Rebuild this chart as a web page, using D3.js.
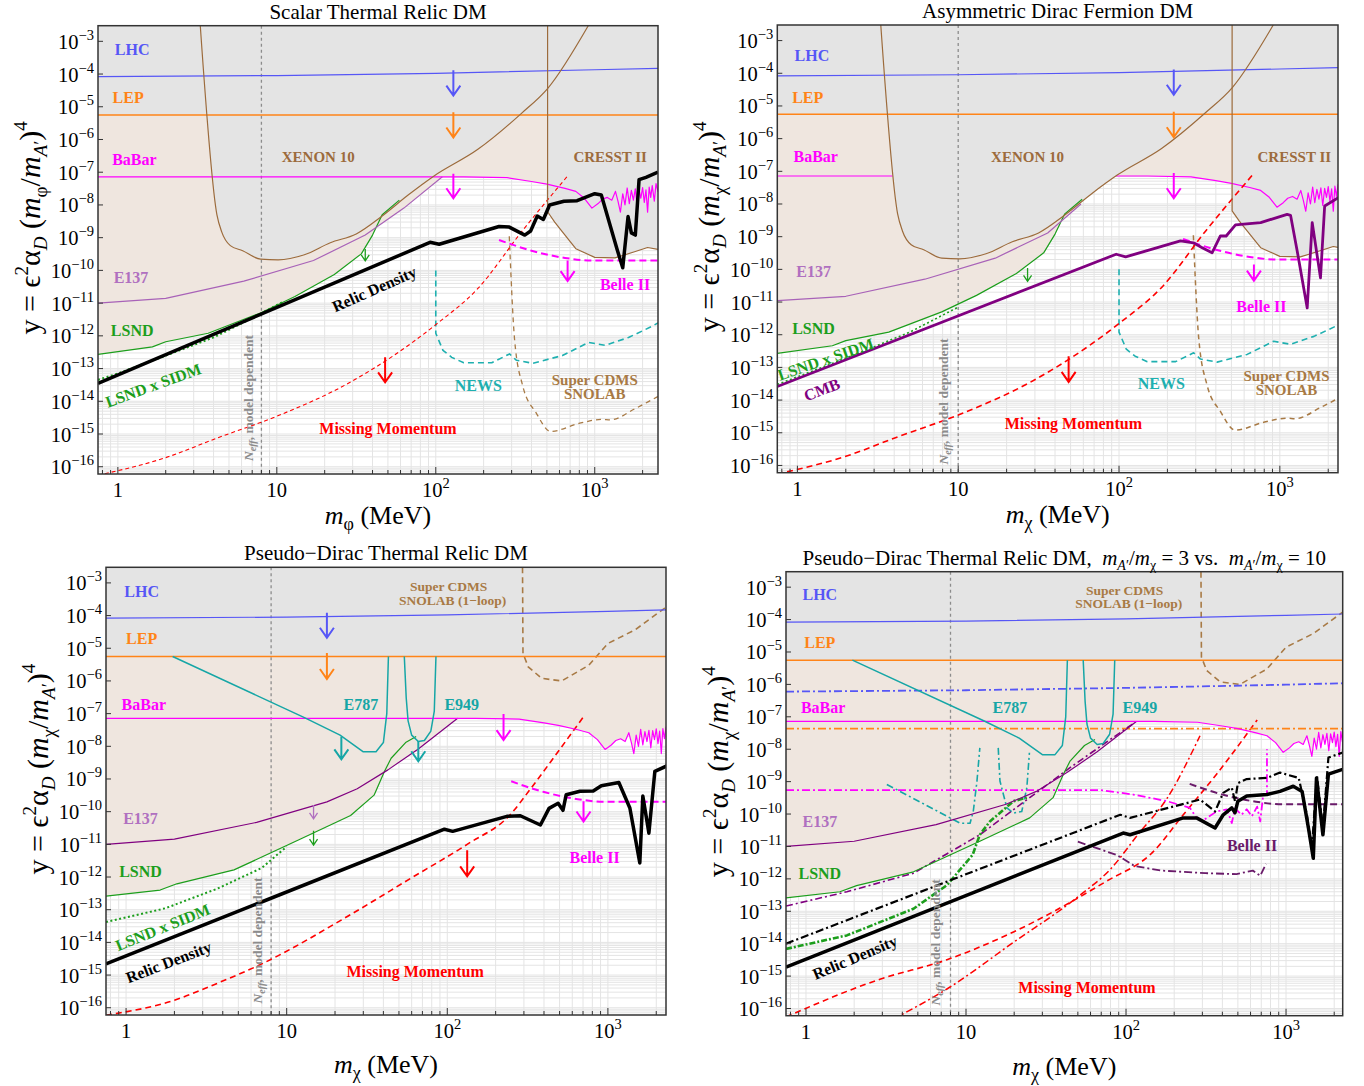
<!DOCTYPE html>
<html>
<head>
<meta charset="utf-8">
<script src="https://cdn.jsdelivr.net/npm/d3@7"></script>
<style>
  body { margin: 0; background: #ffffff; }
  text { font-family: "Liberation Serif", "Times New Roman", serif; }
  .lab { font-weight: bold; }
</style>
</head>
<body>
<svg id="chart" width="1364" height="1086"></svg>
<script>
// ---------- data : [mass in MeV, y] ----------
var lhc = [[0.75, 8.3e-5], [10, 9e-5], [100, 1.05e-4], [1000, 1.35e-4], [2500, 1.5e-4]];
var lep = [[0.75, 5.6e-6], [2500, 5.6e-6]];
var babar = [[0.75, 7.2e-8], [150, 7.2e-8], [280, 6.8e-8], [400, 5.2e-8], [500, 4.3e-8], [650, 3.2e-8], [760, 2.6e-8],
  [860, 1.6e-8], [960, 8e-9], [1050, 1.1e-8], [1120, 1.5e-8], [1200, 1.7e-8], [1280, 1.4e-8], [1350, 2.6e-8],
  [1400, 1.3e-8], [1450, 6e-9], [1500, 2.2e-8], [1550, 1e-8], [1600, 3.3e-8], [1650, 1.1e-8], [1700, 2.8e-8],
  [1750, 1.4e-8], [1800, 3.1e-8], [1850, 9e-9], [1900, 3e-8], [1950, 1.6e-8], [2000, 3.4e-8], [2050, 1.2e-8],
  [2100, 2.9e-8], [2150, 6e-9], [2200, 3.5e-8], [2250, 1.7e-8], [2300, 3.9e-8], [2370, 1.3e-8], [2430, 4.5e-8], [2500, 2.5e-8]];
var xenon = [[3.3, 3e-3], [4.2, 5e-9], [4.5, 1.5e-9], [5.1, 5.7e-10], [6.1, 4e-10], [7.9, 2.2e-10], [10.2, 2.1e-10],
  [14.9, 3e-10], [21.7, 7e-10], [31.6, 1.3e-9], [46, 4.6e-9], [67, 2e-8], [98, 7.8e-8], [184, 5e-7], [346, 6.3e-6],
  [505, 3.6e-5], [910, 3e-3]];
var cresst = [[505, 3e-3], [505, 6.2e-9], [560, 3e-9], [626, 1.5e-9], [760, 4.6e-10], [1000, 2.5e-10], [1340, 2.4e-10],
  [1780, 3.7e-10], [2150, 5e-10], [2500, 4.4e-10]];
var news = [[100, 1e-10], [100, 1.2e-12], [111, 3.6e-13], [126, 2.2e-13], [150, 1.5e-13], [225, 1.5e-13], [291, 2.8e-13],
  [321, 1.8e-13], [407, 1.45e-13], [626, 2.5e-13], [916, 6.3e-13], [1164, 5.1e-13], [1630, 8.9e-13], [2318, 2e-12], [2500, 2.5e-12]];
var cdms = [[290, 1.1e-9], [313, 7.9e-13], [352, 3e-14], [427, 4.5e-15], [528, 1.2e-15], [795, 2.1e-15], [1110, 2.8e-15],
  [1250, 2.7e-15], [1800, 6e-15], [2318, 1.15e-14], [2500, 1.4e-14]];
var cdmsLoop = [[294, 3e-3], [296, 7e-6], [319, 2.7e-6], [387, 1.2e-6], [516, 1e-6], [760, 3e-6], [1000, 1.4e-5],
  [1480, 3.7e-5], [2260, 1.7e-4], [2500, 2.2e-4]];
var mmA = [[0.75, 5.5e-17], [2, 1.9e-16], [4.2, 7.5e-16], [10, 3.5e-15], [28, 3.5e-14], [100, 2.2e-12], [184, 2.8e-11],
  [346, 1.5e-9], [680, 8e-8]];
var mm3 = [[0.75, 5.9e-17], [2, 1.7e-16], [3.7, 5.6e-16], [7, 2.2e-15], [24, 6.3e-14], [60, 9.5e-13], [133, 1e-11],
  [246, 8e-11], [330, 5e-10], [480, 6e-9], [705, 8e-8]];
var mm4 = [[0.75, 5.5e-17], [2.9, 8e-16], [7.6, 3.2e-15], [19.8, 2.3e-14], [74, 8e-13], [148, 6.9e-12], [228, 9.5e-11],
  [368, 1.7e-9], [660, 8e-8]];
var mm4dd = [[3.5, 4.7e-17], [7.6, 4e-16], [19.8, 1.1e-14], [51, 3e-13], [80, 2e-12], [120, 2.5e-11], [180, 3e-10], [290, 2.6e-8]];
var relicScalar = [[0.75, 3.5e-14], [92, 7.2e-10], [105, 6.3e-10], [250, 2.2e-9], [290, 2.1e-9], [363, 1.2e-9], [395, 1.6e-9],
  [435, 4.6e-9], [475, 3.6e-9], [520, 1e-8], [640, 1.3e-8], [775, 1.35e-8], [1000, 2.2e-8], [1100, 2e-8], [1380, 4.5e-10],
  [1500, 1.2e-10], [1620, 4.4e-9], [1700, 1.4e-9], [1800, 1.2e-9], [1900, 5.9e-8], [2100, 7e-8], [2500, 1e-7]];
var relicAsym = [[0.75, 2.6e-14], [96, 2.9e-10], [110, 2.4e-10], [241, 7.4e-10], [290, 6.5e-10], [329, 4.6e-10], [379, 3.2e-10],
  [427, 1.05e-9], [464, 1.05e-9], [530, 2.3e-9], [760, 2.7e-9], [1110, 4.8e-9], [1166, 4.5e-9], [1283, 3.6e-10],
  [1480, 6.6e-12], [1590, 2.7e-9], [1790, 5.5e-11], [1900, 8.7e-9], [2330, 1.6e-8]];
var relicPD = [[0.75, 2.2e-15], [96, 2.9e-11], [108, 2.5e-11], [235, 7.2e-11], [285, 7.5e-11], [380, 3.9e-11], [430, 1.26e-10],
  [490, 1.8e-10], [525, 1.1e-10], [550, 3.3e-10], [670, 4.2e-10], [810, 4.3e-10], [910, 6.2e-10], [1170, 7.8e-10],
  [1370, 1.3e-10], [1580, 2.7e-12], [1650, 3e-10], [1800, 2.2e-11], [1960, 1.7e-9], [2400, 2.7e-9]];
var relicR3 = [[0.75, 1.9e-15], [96, 2.6e-11], [106, 2.3e-11], [228, 7.6e-11], [276, 7.6e-11], [360, 3.7e-11], [405, 9.5e-11],
  [458, 1.55e-10], [480, 1.1e-10], [500, 2.5e-10], [568, 3.6e-10], [760, 4e-10], [917, 5e-10], [1110, 7.2e-10], [1260, 5e-10],
  [1380, 3.7e-11], [1480, 4.3e-12], [1550, 1.3e-9], [1700, 2.3e-11], [1840, 1.7e-9], [2260, 2.4e-9]];
var relicR10 = [[0.75, 1e-14], [92, 9.5e-11], [106, 7.6e-11], [290, 2.8e-10], [360, 1.2e-10], [405, 4.5e-10], [458, 6.5e-10],
  [480, 2.5e-10], [500, 9e-10], [568, 1.2e-9], [760, 1.3e-9], [917, 1.9e-9], [1200, 1.3e-9], [1350, 9.5e-11], [1450, 8.7e-12],
  [1560, 1.5e-9], [1700, 3.7e-11], [1840, 5.5e-9], [2260, 7.9e-9]];
var lsndA = [[0.75, 2.7e-13], [1.65, 4.6e-13], [2, 6.6e-13], [3.7, 1.2e-12], [7.9, 5e-12], [13, 1.6e-11], [23, 7.5e-11],
  [34, 3.2e-10], [40, 1.2e-9], [46, 5e-9], [59, 1.4e-8]];
var lsndB = [[0.75, 2.6e-13], [1.63, 4e-13], [2.07, 6.2e-13], [4.7, 1.65e-12], [12.2, 1.45e-11], [25, 7.6e-11], [35, 3.2e-10],
  [40.6, 1.7e-9], [44.7, 4.3e-9], [55, 1.3e-8], [64, 2e-8]];
var e137A = [[0.75, 1e-11], [2, 1.4e-11], [6.2, 4.7e-11], [17, 2e-10], [36, 1.2e-9], [63, 8e-9], [110, 7.3e-8]];
var e137B = [[0.75, 1.1e-11], [2, 1.5e-11], [6.2, 5e-11], [17, 2.2e-10], [36, 1.3e-9], [58, 1e-8]];
var e137C = [[0.75, 1e-11], [2, 1.45e-11], [6.5, 4.7e-11], [17.8, 2e-10], [27.5, 5e-10], [42.7, 1.9e-9], [66, 8.3e-9], [116, 7.2e-8]];
var e137DD = [[0.75, 1.45e-13], [1.8, 4e-13], [4.7, 1.5e-12], [12.2, 2.3e-11], [25, 3.2e-10], [44.7, 2.7e-9], [83, 2.3e-8], [110, 6e-8]];
var sidmA = [[0.75, 4.5e-14], [1, 7e-14], [2, 2.5e-13], [4, 9e-13], [7, 3.5e-12], [11, 1.1e-11]];
var sidmB = [[0.75, 3e-14], [2, 1.9e-13], [5, 1.2e-12], [10, 7e-12]];
var sidmC = [[0.75, 4.2e-14], [1.75, 1.1e-13], [3.7, 4.4e-13], [7, 1.9e-12], [10, 8.5e-12]];
var sidmR10 = [[0.75, 6.9e-15], [1.8, 1.8e-14], [4.7, 1.2e-13], [7.6, 6.4e-13], [11, 5.5e-12], [12.2, 2.3e-11], [14.1, 5.9e-11],
  [19.8, 2.5e-10], [24, 3.2e-10]];
var belle = [[250, 8.5e-10], [400, 4e-10], [650, 2.4e-10], [950, 2e-10], [2500, 2e-10]];
var belleDD = [[50, 1.4e-11], [88, 5.4e-12], [113, 2.5e-12], [166, 1.8e-12], [313, 1.5e-12], [490, 1.4e-12], [620, 1.8e-12],
  [690, 1.25e-12], [750, 2.9e-12]];
var babarDD = [[0.75, 5.5e-10], [69, 5.5e-10], [111, 4e-10], [180, 2.5e-10], [251, 1.55e-10], [276, 7.6e-11], [303, 6.3e-11],
  [368, 1.2e-10], [427, 1.4e-10], [458, 5.3e-11], [480, 1.5e-10], [527, 9.5e-11], [568, 1.4e-10], [611, 8.5e-11], [660, 1.7e-10],
  [690, 5.9e-11], [720, 4e-10], [760, 4e-10], [760, 1e-8]];
var lhcDD = [[0.75, 6e-7], [10, 6.6e-7], [100, 7.8e-7], [1000, 9.8e-7], [2500, 1.1e-6]];
var lepDD = [[0.75, 4.3e-8], [2500, 4.3e-8]];
var e787 = [[1.95, 5.6e-6], [13, 7.4e-8], [21.5, 2.2e-8], [30, 6.8e-9], [36, 6.8e-9], [40, 1.3e-8], [42, 1e-7], [43, 5.6e-6]];
var e949 = [[54, 5.6e-6], [55.5, 3e-7], [57, 6e-8], [60, 2.2e-8], [66, 1.4e-8], [72, 1.5e-8], [79, 2.9e-8], [83, 1.2e-7], [85, 5.6e-6]];
var e787DD = [[3.2, 8.2e-10], [9.2, 5.2e-11], [10.6, 5.2e-11], [11.1, 1.2e-10], [11.7, 1e-9], [12.2, 1.1e-8]];
var e949DD = [[15.9, 1.1e-8], [16.3, 1.05e-9], [18, 1.55e-10], [19.8, 1.07e-10], [22.3, 1.2e-10], [24, 6.5e-10], [24.9, 7.8e-9]];

// arrows : [mass, from, to, colour key, big?]
var arrows1 = [[129, 1.3e-4, 2.2e-5, "lhc", 1], [129, 6.8e-6, 1.15e-6, "lep", 1], [129, 8.9e-8, 1.6e-8, "babar", 1],
  [36, 4.5e-10, 1.95e-10, "lsnd", 0], [48, 2.2e-13, 3.8e-14, "mm", 1], [675, 2e-10, 4.7e-11, "babar", 1]];
var arrows2 = [[219, 1.3e-4, 2.2e-5, "lhc", 1], [219, 6.6e-6, 1.1e-6, "lep", 1], [219, 8.9e-8, 1.5e-8, "babar", 1],
  [27, 1.1e-10, 4.3e-11, "lsnd", 0], [48.6, 2.2e-13, 3.6e-14, "mm", 1], [690, 1.4e-10, 4.5e-11, "babar", 1]];
var arrows3 = [[17.8, 1.23e-4, 2.1e-5, "lhc", 1], [17.8, 7.2e-6, 1.15e-6, "lep", 1], [224, 9.8e-8, 1.55e-8, "babar", 1],
  [21.9, 1.95e-8, 4e-9, "e787", 1], [66, 1.45e-8, 3.5e-9, "e787", 1], [14.7, 1.6e-10, 6e-11, "e137lab", 0],
  [14.7, 2.6e-11, 9.5e-12, "lsnd", 0], [133, 6.6e-12, 1.05e-12, "mm", 1], [705, 2.1e-10, 5e-11, "babar", 1]];

// labels : [text, mass, y, colour key, rotation, font size]
var labels1 = [["LHC", 1.23, 5.5e-4, "lhc", 0, 16], ["LEP", 1.16, 2e-5, "lep", 0, 16], ["BaBar", 1.27, 2.5e-7, "babar", 0, 16],
  ["XENON 10", 18.2, 2.9e-7, "xenon", 0, 15], ["CRESST II", 1250, 2.9e-7, "xenon", 0, 15], ["E137", 1.21, 5.9e-11, "e137lab", 0, 16],
  ["LSND", 1.23, 1.5e-12, "lsnd", 0, 16], ["LSND x SIDM", 1.67, 3.1e-14, "lsnd", -20, 16], ["Relic Density", 41, 2.7e-11, "relic", -24, 16],
  ["NEWS", 185, 3.1e-14, "news", 0, 16], ["Super CDMS", 1000, 4.5e-14, "cdms", 0, 15], ["SNOLAB", 1000, 1.66e-14, "cdms", 0, 15],
  ["Missing Momentum", 50, 1.5e-15, "mm", 0, 16], ["Belle II", 1550, 3.8e-11, "babar", 0, 16]];
var labels2 = [["LHC", 1.23, 3.5e-4, "lhc", 0, 16], ["LEP", 1.16, 1.8e-5, "lep", 0, 16], ["BaBar", 1.3, 2.8e-7, "babar", 0, 16],
  ["XENON 10", 27, 2.8e-7, "xenon", 0, 15], ["CRESST II", 1230, 2.8e-7, "xenon", 0, 15], ["E137", 1.26, 8.9e-11, "e137lab", 0, 16],
  ["LSND", 1.26, 1.6e-12, "lsnd", 0, 16], ["LSND x SIDM", 1.5, 1.8e-13, "lsnd", -19, 16], ["CMB", 1.42, 2.1e-14, "cmb", -21, 16],
  ["NEWS", 183, 3.2e-14, "news", 0, 16], ["Super CDMS", 1100, 5.6e-14, "cdms", 0, 15], ["SNOLAB", 1100, 2e-14, "cdms", 0, 15],
  ["Missing Momentum", 52, 1.9e-15, "mm", 0, 16], ["Belle II", 768, 7.4e-12, "babar", 0, 16]];
var labels3 = [["LHC", 1.25, 5.5e-4, "lhc", 0, 16], ["LEP", 1.25, 2e-5, "lep", 0, 16], ["BaBar", 1.29, 1.86e-7, "babar", 0, 16],
  ["E787", 29, 1.86e-7, "e787", 0, 16], ["E949", 123, 1.86e-7, "e787", 0, 16], ["E137", 1.23, 6.2e-11, "e137lab", 0, 16],
  ["LSND", 1.23, 1.45e-12, "lsnd", 0, 16], ["LSND x SIDM", 1.69, 2.9e-14, "lsnd", -22, 16], ["Relic Density", 1.84, 2.5e-15, "relic", -21, 16],
  ["Missing Momentum", 63, 1.3e-15, "mm", 0, 16], ["Belle II", 826, 3.9e-12, "babar", 0, 16],
  ["Super CDMS", 102, 7.9e-4, "cdms", 0, 13.5], ["SNOLAB (1\u2212loop)", 108, 3e-4, "cdms", 0, 13.5]];
var labels4 = [["LHC", 1.22, 5.8e-4, "lhc", 0, 16], ["LEP", 1.22, 2e-5, "lep", 0, 16], ["BaBar", 1.28, 1.9e-7, "babar", 0, 16],
  ["E787", 18.8, 1.9e-7, "e787", 0, 16], ["E949", 122, 1.9e-7, "e787", 0, 16], ["E137", 1.22, 5.9e-11, "e137lab", 0, 16],
  ["LSND", 1.22, 1.45e-12, "lsnd", 0, 16], ["Relic Density", 2.02, 3.8e-15, "relic", -23, 16],
  ["Missing Momentum", 57, 4.5e-16, "mm", 0, 16], ["Belle II", 613, 1.07e-11, "belle4", 0, 16],
  ["Super CDMS", 98, 8.3e-4, "cdms", 0, 13.5], ["SNOLAB (1\u2212loop)", 104, 3.1e-4, "cdms", 0, 13.5]];

var col = {
  lhc: "#5656f6", lep: "#ff8418", babar: "#ff00ff", e137l: "#a862b8", e137d: "#800080", e137lab: "#b070c0",
  lsnd: "#1c9e1c", xenon: "#9c6b3c", news: "#1fb0b0", cdms: "#a87a45", mm: "#ff0000", relic: "#000000",
  cmb: "#800080", e787: "#16a6a6", belle4: "#6a1b6a", neff: "#8c8c8c",
  gray: "#e4e4e4", beige: "#efe6df", grid: "#e4e4e4"
};

var xMin = 0.75;
var yDomain = [6e-17, 3e-3];
var svg = d3.select("#chart");
var NB = "\u00a0";

var panels = [
  {id: 1, left: 98, right: 658, top: 25.7, bottom: 474, xMax: 2500, neff: 8, neffLab: [7.1, 1.26e-14], sub: "\u03c6",
    title: "Scalar Thermal Relic DM", yTitleX: 40, xTitleDy: 50, labels: labels1, arrows: arrows1,
    layers: [
      {fill: "beige", data: lsndA}, {fill: "beige", data: e137A}, {fill: "beige", data: babar},
      {fill: "gray", data: lep}, {fill: "gray", data: xenon}, {fill: "gray", data: cresst}, {neff: 1},
      {c: "cdms", w: 1.3, dash: "5,4", data: cdms, smooth: 1}, {c: "news", w: 1.6, dash: "6,4", data: news},
      {c: "mm", w: 1.1, dash: "4,3", data: mmA, smooth: 1}, {c: "babar", w: 2, dash: "7,4", data: belle, smooth: 1},
      {c: "lsnd", w: 2.2, dash: "2,2.5", data: sidmA}, {c: "lsnd", w: 1.2, data: lsndA}, {c: "e137l", w: 1.2, data: e137A},
      {c: "babar", w: 1.2, data: babar}, {c: "lep", w: 1.5, data: lep}, {c: "lhc", w: 1.2, data: lhc},
      {c: "xenon", w: 1.2, data: xenon, smooth: 1}, {c: "xenon", w: 1.2, data: cresst}, {c: "relic", w: 3.5, data: relicScalar}
    ]},
  {id: 2, left: 777.3, right: 1338, top: 25, bottom: 472.7, xMax: 2300, neff: 10, neffLab: [8.6, 9e-15], sub: "\u03c7",
    title: "Asymmetric Dirac Fermion DM", yTitleX: 719, xTitleDy: 50, labels: labels2, arrows: arrows2,
    layers: [
      {fill: "beige", data: lsndA}, {fill: "beige", data: e137B}, {fill: "beige", data: babar},
      {fill: "gray", data: lep}, {fill: "gray", data: cresst}, {c: "babar", w: 1.2, data: babar},
      {fill: "gray", data: xenon}, {neff: 1},
      {c: "cdms", w: 1.5, dash: "5,4", data: cdms, smooth: 1}, {c: "news", w: 1.6, dash: "6,4", data: news},
      {c: "mm", w: 1.6, dash: "6,4", data: mmA, smooth: 1}, {c: "babar", w: 2, dash: "7,4", data: belle, smooth: 1},
      {c: "lsnd", w: 1.6, dash: "2,2.5", data: sidmB}, {c: "lsnd", w: 1.2, data: lsndA}, {c: "e137l", w: 1.2, data: e137B},
      {c: "lep", w: 1.5, data: lep}, {c: "lhc", w: 1.2, data: lhc},
      {c: "xenon", w: 1.2, data: xenon, smooth: 1}, {c: "xenon", w: 1.2, data: cresst}, {c: "cmb", w: 2.8, data: relicAsym}
    ]},
  {id: 3, left: 106, right: 666, top: 567.3, bottom: 1015, xMax: 2300, neff: 8, neffLab: [7, 1.15e-14], sub: "\u03c7",
    title: "Pseudo\u2212Dirac Thermal Relic DM", yTitleX: 48, xTitleDy: 58, labels: labels3, arrows: arrows3,
    layers: [
      {fill: "beige", data: lsndB}, {fill: "beige", data: e137C}, {fill: "beige", data: babar},
      {fill: "gray", data: lep}, {neff: 1},
      {c: "cdms", w: 1.6, dash: "6,4", data: cdmsLoop}, {c: "mm", w: 1.6, dash: "6,4", data: mm3, smooth: 1},
      {c: "babar", w: 2, dash: "7,4", data: belle, smooth: 1}, {c: "lsnd", w: 2, dash: "2,2.5", data: sidmC},
      {c: "lsnd", w: 1.2, data: lsndB}, {c: "e137d", w: 1.2, data: e137C}, {c: "babar", w: 1.2, data: babar},
      {c: "lep", w: 1.5, data: lep}, {c: "lhc", w: 1.2, data: lhc},
      {c: "e787", w: 1.5, data: e787}, {c: "e787", w: 1.5, data: e949}, {c: "relic", w: 3.5, data: relicPD}
    ]},
  {id: 4, left: 786, right: 1342.7, top: 571.7, bottom: 1015.7, xMax: 2260, neff: 8, neffLab: [6.9, 1.1e-14], sub: "\u03c7",
    title: null, yTitleX: 728, xTitleDy: 59, labels: labels4, arrows: [],
    layers: [
      {fill: "beige", data: lsndB}, {fill: "beige", data: e137C}, {fill: "beige", data: babar},
      {fill: "gray", data: lep}, {neff: 1},
      {c: "cdms", w: 1.6, dash: "6,4", data: cdmsLoop}, {c: "mm", w: 1.6, dash: "6,4", data: mm4, smooth: 1},
      {c: "mm", w: 1.5, dash: "7,3,2,3", data: mm4dd, smooth: 1},
      {c: "belle4", w: 2, dash: "7,4", data: belle, smooth: 1}, {c: "belle4", w: 1.8, dash: "8,3,2,3", data: belleDD},
      {c: "babar", w: 1.8, dash: "8,3,2,3", data: babarDD}, {c: "lep", w: 1.8, dash: "8,3,2,3", data: lepDD},
      {c: "lhc", w: 1.8, dash: "8,3,2,3", data: lhcDD}, {c: "e787", w: 1.6, dash: "7,3,2,3", data: e787DD},
      {c: "e787", w: 1.6, dash: "7,3,2,3", data: e949DD}, {c: "e137d", w: 1.6, dash: "7,3,2,3", data: e137DD},
      {c: "lsnd", w: 2.6, dash: "6,2,2,2", data: sidmR10},
      {c: "lsnd", w: 1.2, data: lsndB}, {c: "e137d", w: 1.2, data: e137C}, {c: "babar", w: 1.2, data: babar},
      {c: "lep", w: 1.5, data: lep}, {c: "lhc", w: 1.2, data: lhc},
      {c: "e787", w: 1.5, data: e787}, {c: "e787", w: 1.5, data: e949},
      {c: "relic", w: 2.2, dash: "8,3,2,3", data: relicR10}, {c: "relic", w: 3.5, data: relicR3}
    ]}
];

// petit exposant "10^e"
function powLabel(sel, e) {
  if (e === 0) { sel.text("1"); return; }
  if (e === 1) { sel.text("10"); return; }
  sel.append("tspan").text("10");
  sel.append("tspan").attr("dy", -9).style("font-size", "14.5px").text(e < 0 ? "\u2212" + (-e) : e);
}

// m_{A'}/m_chi
function ratio(t) {
  t.append("tspan").style("font-style", "italic").text("m");
  t.append("tspan").attr("dy", 5).style("font-size", "14px").style("font-style", "italic").text("A");
  t.append("tspan").style("font-size", "14px").text("\u2032");
  t.append("tspan").attr("dy", -5).text("/");
  t.append("tspan").style("font-style", "italic").text("m");
  t.append("tspan").attr("dy", 5).style("font-size", "14px").text("\u03c7");
}

function drawPanel(p) {
  var x = d3.scaleLog().domain([xMin, p.xMax]).range([p.left, p.right]);
  var y = d3.scaleLog().domain(yDomain).range([p.bottom, p.top]);
  var g = svg.append("g");

  svg.append("clipPath").attr("id", "clip" + p.id).append("rect")
    .attr("x", p.left).attr("y", p.top).attr("width", p.right - p.left).attr("height", p.bottom - p.top);
  var plot = g.append("g").attr("clip-path", "url(#clip" + p.id + ")");

  plot.append("rect").attr("x", p.left).attr("y", p.top)
    .attr("width", p.right - p.left).attr("height", p.bottom - p.top).attr("fill", "#fff");

  // grille
  var xg = [], yg = [], e, k, v;
  for (e = -1; e <= 4; e++) for (k = 1; k <= 9; k++) {
    v = k * Math.pow(10, e);
    if (v > xMin && v < p.xMax) xg.push(v);
  }
  for (e = -17; e <= -2; e++) for (k = 1; k <= 9; k++) {
    v = k * Math.pow(10, e);
    if (v > yDomain[0] && v < yDomain[1]) yg.push(v);
  }
  plot.selectAll(".gx").data(xg).enter().append("line")
    .attr("x1", function (d) { return x(d); }).attr("x2", function (d) { return x(d); })
    .attr("y1", p.top).attr("y2", p.bottom).attr("stroke", col.grid).attr("stroke-width", 1);
  plot.selectAll(".gy").data(yg).enter().append("line")
    .attr("y1", function (d) { return y(d); }).attr("y2", function (d) { return y(d); })
    .attr("x1", p.left).attr("x2", p.right).attr("stroke", col.grid).attr("stroke-width", 1);

  var area = d3.area().x(function (d) { return x(d[0]); }).y0(p.top).y1(function (d) { return y(d[1]); });
  var line = d3.line().x(function (d) { return x(d[0]); }).y(function (d) { return y(d[1]); });
  var smooth = d3.line().x(function (d) { return x(d[0]); }).y(function (d) { return y(d[1]); }).curve(d3.curveMonotoneX);

  p.layers.forEach(function (L) {
    if (L.fill) {
      plot.append("path").datum(L.data).attr("d", L.data === xenon ? area.curve(d3.curveMonotoneX) : area.curve(d3.curveLinear))
        .attr("fill", col[L.fill]);
    } else if (L.neff) {
      plot.append("line").attr("x1", x(p.neff)).attr("x2", x(p.neff)).attr("y1", p.top).attr("y2", p.bottom)
        .attr("stroke", col.neff).attr("stroke-width", 1.3).attr("stroke-dasharray", "3,3");
    } else {
      plot.append("path").datum(L.data).attr("d", L.smooth ? smooth : line)
        .attr("fill", "none").attr("stroke", col[L.c]).attr("stroke-width", L.w)
        .attr("stroke-linejoin", "round").attr("stroke-dasharray", L.dash || null);
    }
  });

  // fleches
  p.arrows.forEach(function (a) {
    var ax = x(a[0]), y0 = y(a[1]), y1 = y(a[2]);
    var w = a[4] ? 7 : 4, h = a[4] ? 10 : 6;
    plot.append("path")
      .attr("d", "M" + ax + "," + y0 + "L" + ax + "," + y1 + "M" + (ax - w) + "," + (y1 - h) + "L" + ax + "," + y1 + "L" + (ax + w) + "," + (y1 - h))
      .attr("fill", "none").attr("stroke", col[a[3]]).attr("stroke-width", a[4] ? 2 : 1.3);
  });

  // etiquettes
  p.labels.forEach(function (l) {
    plot.append("text").attr("class", "lab")
      .attr("transform", "translate(" + x(l[1]) + "," + y(l[2]) + ") rotate(" + l[4] + ")")
      .attr("text-anchor", "middle").attr("dy", "0.35em").style("font-size", l[5] + "px")
      .attr("fill", col[l[3]]).text(l[0]);
  });

  var nt = plot.append("text")
    .attr("transform", "translate(" + x(p.neffLab[0]) + "," + y(p.neffLab[1]) + ") rotate(-90)")
    .attr("text-anchor", "middle").attr("fill", col.neff).style("font-weight", "bold").style("font-size", "13.5px");
  nt.append("tspan").style("font-style", "italic").text("N");
  nt.append("tspan").attr("dy", 3).style("font-size", "10px").style("font-style", "italic").text("eff");
  nt.append("tspan").attr("dy", -3).text(", model dependent");

  // cadre et graduations
  g.append("rect").attr("x", p.left).attr("y", p.top)
    .attr("width", p.right - p.left).attr("height", p.bottom - p.top)
    .attr("fill", "none").attr("stroke", "#333").attr("stroke-width", 1.5);

  g.selectAll(".tx").data(xg).enter().append("line")
    .attr("x1", function (d) { return x(d); }).attr("x2", function (d) { return x(d); })
    .attr("y1", p.bottom)
    .attr("y2", function (d) { return Math.abs(Math.log10(d) - Math.round(Math.log10(d))) < 1e-6 ? p.bottom - 7 : p.bottom - 4; })
    .attr("stroke", "#333").attr("stroke-width", 1);

  var xe = [0, 1, 2, 3];
  xe.forEach(function (e) {
    var t = g.append("text").attr("x", x(Math.pow(10, e))).attr("y", p.bottom + 23)
      .attr("text-anchor", "middle").style("font-size", "20.5px");
    powLabel(t, e);
  });

  var ye = d3.range(-16, -2);
  ye.forEach(function (e) {
    var yy = y(Math.pow(10, e));
    g.append("line").attr("x1", p.left).attr("x2", p.left + 5).attr("y1", yy).attr("y2", yy)
      .attr("stroke", "#333").attr("stroke-width", 1);
    var t = g.append("text").attr("x", p.left - 4).attr("y", yy + 7.5)
      .attr("text-anchor", "end").style("font-size", "20.5px");
    powLabel(t, e);
  });

  // titre
  var tt = g.append("text").attr("x", (p.left + p.right) / 2).attr("y", p.top - 7)
    .attr("text-anchor", "middle").style("font-size", "21px");
  if (p.title) {
    tt.text(p.title);
  } else {
    tt.append("tspan").text("Pseudo\u2212Dirac Thermal Relic DM," + NB + NB);
    ratio(tt);
    tt.append("tspan").attr("dy", -5).text(NB + "=" + NB + "3" + NB + "vs." + NB + NB);
    ratio(tt);
    tt.append("tspan").attr("dy", -5).text(NB + "=" + NB + "10");
  }

  // axe x
  var xt = g.append("text").attr("x", (p.left + p.right) / 2).attr("y", p.bottom + p.xTitleDy)
    .attr("text-anchor", "middle").style("font-size", "26px");
  xt.append("tspan").style("font-style", "italic").text("m");
  xt.append("tspan").attr("dy", 6).style("font-size", "18px").text(p.sub);
  xt.append("tspan").attr("dy", -6).text(" (MeV)");

  // axe y
  var yt = g.append("text")
    .attr("transform", "translate(" + p.yTitleX + "," + ((p.top + p.bottom) / 2 - 22) + ") rotate(-90)")
    .attr("text-anchor", "middle").style("font-size", "30px");
  yt.append("tspan").text("y = \u03f5");
  yt.append("tspan").attr("dy", -12).style("font-size", "19px").text("2");
  yt.append("tspan").attr("dy", 12).text("\u03b1");
  yt.append("tspan").attr("dy", 7).style("font-size", "19px").style("font-style", "italic").text("D");
  yt.append("tspan").attr("dy", -7).text(" (");
  yt.append("tspan").style("font-style", "italic").text("m");
  yt.append("tspan").attr("dy", 7).style("font-size", "19px").text(p.sub);
  yt.append("tspan").attr("dy", -7).text("/");
  yt.append("tspan").style("font-style", "italic").text("m");
  yt.append("tspan").attr("dy", 7).style("font-size", "19px").style("font-style", "italic").text("A");
  yt.append("tspan").style("font-size", "19px").text("\u2032");
  yt.append("tspan").attr("dy", -7).text(")");
  yt.append("tspan").attr("dy", -13).style("font-size", "19px").text("4");
}

panels.forEach(drawPanel);
</script>
</body>
</html>
